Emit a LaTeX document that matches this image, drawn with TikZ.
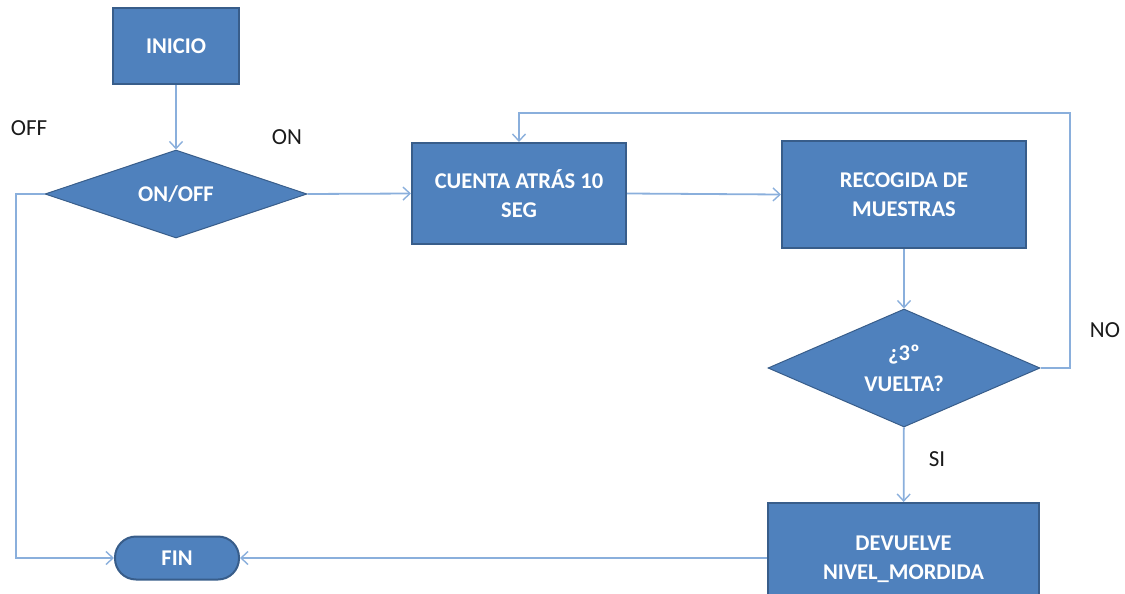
\documentclass[tikz,border=0pt]{standalone}
\usepackage{fontspec}
\setmainfont{Carlito}
\usetikzlibrary{shapes.geometric,arrows.meta}
\definecolor{boxfill}{HTML}{4F81BD}
\definecolor{boxline}{HTML}{385D8A}
\definecolor{conn}{HTML}{8AAFDC}
\definecolor{lbl}{HTML}{1A1A1A}
\tikzset{
  procbox/.style={rectangle, fill=boxfill, draw=boxline, line width=2pt,
    text=white, font=\bfseries\fontsize{22.5}{29}\selectfont, align=center, inner sep=0pt},
  decbox/.style={diamond, aspect=3, fill=boxfill, draw=boxline, line width=1pt,
    text=white, font=\bfseries\fontsize{22.5}{31}\selectfont, align=center, inner sep=0pt},
  termbox/.style={rectangle, rounded corners=21pt, fill=boxfill, draw=boxline, line width=2pt,
    text=white, font=\bfseries\fontsize{22.5}{29}\selectfont, align=center, inner sep=0pt},
  flow/.style={draw=conn, line width=1.8pt,
    -{Straight Barb[length=7pt,width=13pt,line width=1.4pt]}},
  tag/.style={text=lbl, font=\fontsize{23}{26}\selectfont, inner sep=0pt}
}
\begin{document}
\begin{tikzpicture}[x=1pt,y=-1pt]
\useasboundingbox (0,0) rectangle (1125,594);
\clip (0,0) rectangle (1125,594);

% process steps
\node[procbox, minimum width=126pt, minimum height=76pt] (inicio) at (176,46) {INICIO};
\node[decbox, minimum width=262pt, minimum height=88pt] (onoff) at (176,194) {ON/OFF};
\node[procbox, minimum width=214pt, minimum height=101pt] (cuenta) at (519,193.5) {CUENTA ATRÁS 10\\SEG};
\node[procbox, minimum width=244pt, minimum height=107pt] (recog) at (904,194.5) {RECOGIDA DE\\MUESTRAS};
\node[decbox, aspect=2.3, minimum width=272pt, minimum height=118pt] (vuelta) at (904,368) {¿3º\\VUELTA?};
\node[procbox, minimum width=271pt, minimum height=112pt] (devuelve) at (903.5,559) {DEVUELVE\\NIVEL\_MORDIDA};
\node[termbox, minimum width=124pt, minimum height=43pt] (fin) at (177,558) {FIN};

% corner points of the routed connectors
\coordinate (offc) at (16,558);
\coordinate (loopc) at (1070,113);

% connectors
\draw[flow] (inicio) -- (onoff);
\draw[flow] (onoff.east) -- (cuenta.west);
\draw[flow] (cuenta.east) -- (recog.west);
\draw[flow] (recog) -- (vuelta);
\draw[flow] (vuelta) -- (devuelve);
\draw[flow] (vuelta.east) -| (loopc) -| (cuenta.north);
\draw[flow] (onoff.west) -| (offc) -- (fin.west);
\draw[flow] (devuelve.west |- fin.east) -- (fin.east);

% branch labels
\node[tag] (loff) at (29,128) {OFF};
\node[tag] (lon) at (287,137) {ON};
\node[tag] (lno) at (1105,330) {NO};
\node[tag] (lsi) at (937,459) {SI};
\end{tikzpicture}
\end{document}
